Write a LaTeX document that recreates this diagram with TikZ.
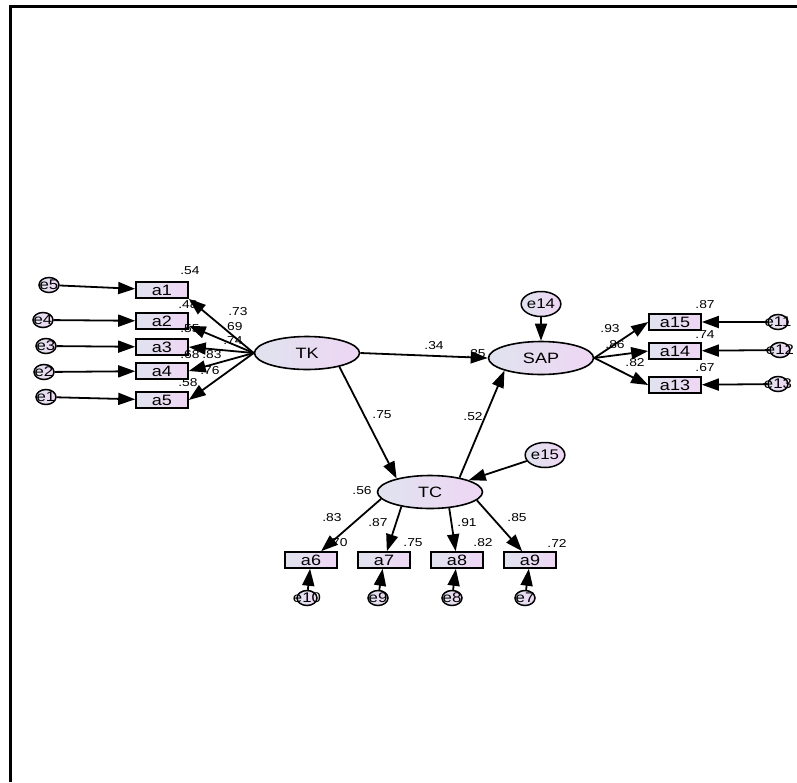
\documentclass[tikz,border=0pt]{standalone}
\usepackage{fontspec}
\setmainfont{Liberation Sans}[FakeStretch=1.2]
\usetikzlibrary{shapes.geometric,arrows.meta}
\definecolor{lgr}{RGB}{224,227,238}
\definecolor{lpk}{RGB}{238,214,244}

\begin{document}
\begin{tikzpicture}[x=1pt, y=-1pt,
	lv/.style={ellipse, draw, line width=1.6pt, inner sep=0pt, minimum width=105, minimum height=33, left color=lgr, right color=lpk, font=\fontsize{15}{16}\selectfont},
	ob/.style={rectangle, draw, line width=1.6pt, inner sep=0pt, minimum width=52, minimum height=16, left color=lgr, right color=lpk, font=\fontsize{15}{16}\selectfont},
	er/.style={ellipse, draw, line width=1.5pt, inner sep=0pt, minimum width=20, minimum height=15, left color=lgr, right color=lpk, font=\fontsize{14}{15}\selectfont},
	ee/.style={ellipse, draw, line width=1.5pt, inner sep=0pt, minimum width=31, minimum height=25, left color=lgr, right color=lpk, font=\fontsize{14}{15}\selectfont},
	w/.style={font=\fontsize{11.5}{12}\selectfont, inner sep=0pt},
	a/.style={-{Triangle[length=17pt,width=12pt]}, line width=1.8pt}]
		\useasboundingbox (0,0) rectangle (797,782);
		\draw[line width=3pt] (10,782) -- (10,6) -- (797,6);

		% latent variables
		\node[lv] (TK) at (307,353) {TK};
		\node[lv] (SAP) at (541,358) {SAP};
		\node[lv] (TC) at (430,492) {TC};
		\node[ee] (e14) at (541,304) {e14};
		\node[ee] (e15) at (545,455) {e15};

		% TK items
		\node[ob] (a1) at (162,290) {a1};
		\node[ob] (a2) at (162,321) {a2};
		\node[ob] (a3) at (162,347) {a3};
		\node[ob] (a4) at (162,371) {a4};
		\node[ob] (a5) at (162,400) {a5};
		\node[er] (e5) at (49,285) {\makebox[0pt]{e5}};
		\node[er] (e4) at (43,320) {\makebox[0pt]{e4}};
		\node[er] (e3) at (46,346) {\makebox[0pt]{e3}};
		\node[er] (e2) at (44,372) {\makebox[0pt]{e2}};
		\node[er] (e1) at (46,397) {\makebox[0pt]{e1}};

		% SAP items
		\node[ob] (a15) at (675,322) {a15};
		\node[ob] (a14) at (675,351) {a14};
		\node[ob] (a13) at (675,385) {a13};
		\node[er] (e11) at (778,322) {\makebox[0pt]{e11}};
		\node[er] (e12) at (780,350) {\makebox[0pt]{e12}};
		\node[er] (e13) at (778,384) {\makebox[0pt]{e13}};

		% TC items
		\node[ob] (a6) at (311,560) {a6};
		\node[ob] (a7) at (384,560) {a7};
		\node[ob] (a8) at (457,560) {a8};
		\node[ob] (a9) at (530,560) {a9};
		\node[er] (e10) at (307,598) {\makebox[0pt]{e10}};
		\node[er] (e9) at (378,598) {\makebox[0pt]{e9}};
		\node[er] (e8) at (452,598) {\makebox[0pt]{e8}};
		\node[er] (e7) at (525,598) {\makebox[0pt]{e7}};

		% estimates
		\node[w] (a1_label) at (190,271) {.54};
		\node[w] (TK_a1) at (238,312) {.73};
		\node[w] (a2_label) at (188,305) {.48};
		\node[w] (TK_a2) at (233,327) {.69};
		\node[w] (a3_label) at (190,329) {.55};
		\node[w] (TK_a3) at (233,341) {.74};
		\node[w] (a4_label) at (190,355) {.68};
		\node[w] (TK_a4) at (212,355) {.83};
		\node[w] (TK_a5) at (210,371) {.76};
		\node[w] (a5_label) at (188,383) {.58};
		\node[w] (TK_SAP) at (434,346) {.34};
		\node[w] (SAP_label) at (476,354) {.35};
		\node[w] (TK_TC) at (382,415) {.75};
		\node[w] (TC_SAP) at (473,417) {.52};
		\node[w] (SAP_a15) at (610,329) {.93};
		\node[w] (SAP_a14) at (615,345) {.86};
		\node[w] (SAP_a13) at (635,363) {.82};
		\node[w] (a15_label) at (705,305) {.87};
		\node[w] (a14_label) at (705,335) {.74};
		\node[w] (a13_label) at (705,368) {.67};
		\node[w] (TC_label) at (362,491) {.56};
		\node[w] (TC_a6) at (332,518) {.83};
		\node[w] (TC_a7) at (378,523) {.87};
		\node[w] (TC_a8) at (467,523) {.91};
		\node[w] (TC_a9) at (517,518) {.85};
		\node[w] (a6_label) at (338,543) {.70};
		\node[w] (a7_label) at (413,543) {.75};
		\node[w] (a8_label) at (483,543) {.82};
		\node[w] (a9_label) at (557,543) {.72};

		\draw[a] (e5) -- (a1);
		\draw[a] (e4) -- (a2);
		\draw[a] (e3) -- (a3);
		\draw[a] (e2) -- (a4);
		\draw[a] (e1) -- (a5);
		\draw[a] (TK.west) -- (a1.south east);
		\draw[a] (TK.west) -- (a2.-10);
		\draw[a] (TK.west) -- (a3.east);
		\draw[a] (TK.west) -- (a4.east);
		\draw[a] (TK.west) -- (a5.east);
		\draw[a] (TK.east) -- (SAP.west);
		\draw[a] (TK.-23) -- (TC.158);
		\draw[a] (TC.26) -- (SAP.199);
		\draw[a] (e14) -- (SAP);
		\draw[a] (e15) -- (TC.17);
		\draw[a] (SAP.east) -- (a15.west);
		\draw[a] (SAP.east) -- (a14.west);
		\draw[a] (SAP.east) -- (a13.west);
		\draw[a] (e11) -- (a15);
		\draw[a] (e12) -- (a14);
		\draw[a] (e13) -- (a13);
		\draw[a] (TC.188) -- (a6);
		\draw[a] (TC.207) -- (a7);
		\draw[a] (TC.-40) -- (a8);
		\draw[a] (TC.-10) -- (a9);
		\draw[a] (e10) -- (a6);
		\draw[a] (e9) -- (a7);
		\draw[a] (e8) -- (a8);
		\draw[a] (e7) -- (a9);
	\end{tikzpicture}
\end{document}
